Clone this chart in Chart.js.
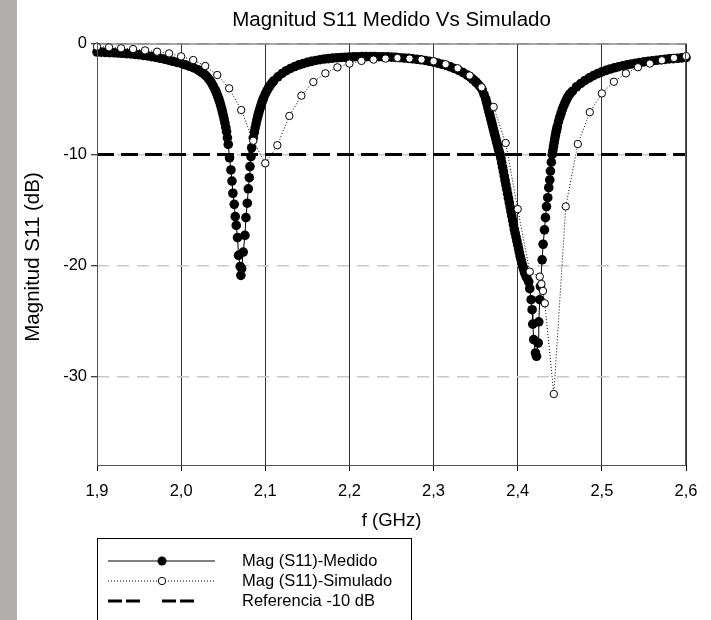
<!DOCTYPE html>
<html>
<head>
<meta charset="utf-8">
<script src="https://cdn.jsdelivr.net/npm/chart.js@4"></script>
<style>
  body { margin: 0; background: #fff; }
  canvas { display: block; }
</style>
</head>
<body>
<canvas id="s11_chart" width="711" height="620"></canvas>
<script>
// frequency (GHz) / magnitude (dB)
const medidoX = [
  1.900, 1.905, 1.910, 1.915, 1.920, 1.925, 1.930, 1.935, 1.940, 1.945,
  1.950, 1.955, 1.960, 1.965, 1.970, 1.975, 1.980, 1.985, 1.990, 1.995,
  2.000, 2.005, 2.010, 2.015, 2.020, 2.022, 2.024, 2.026, 2.028, 2.030,
  2.032, 2.034, 2.036, 2.038, 2.040, 2.041, 2.042, 2.043, 2.044, 2.045,
  2.046, 2.047, 2.048, 2.049, 2.050, 2.051, 2.052, 2.053, 2.054, 2.055,
  2.0560, 2.0575, 2.0592, 2.0604, 2.0615, 2.0631, 2.0643, 2.0655, 2.0670, 2.0682,
  2.0702, 2.0710, 2.0719, 2.0738, 2.0758, 2.0770, 2.0786, 2.0798, 2.0810, 2.0818,
  2.0830, 2.0838, 2.0857, 2.087, 2.088, 2.089, 2.090, 2.091, 2.092, 2.093,
  2.094, 2.095, 2.096, 2.097, 2.098, 2.100, 2.102, 2.104, 2.106, 2.108,
  2.110, 2.115, 2.120, 2.125, 2.130, 2.135, 2.140, 2.145, 2.150, 2.155,
  2.160, 2.165, 2.170, 2.175, 2.180, 2.185, 2.190, 2.195, 2.200, 2.205,
  2.210, 2.215, 2.220, 2.225, 2.230, 2.235, 2.240, 2.245, 2.250, 2.255,
  2.260, 2.265, 2.270, 2.275, 2.280, 2.285, 2.290, 2.295, 2.300, 2.305,
  2.310, 2.315, 2.320, 2.325, 2.330, 2.335, 2.340, 2.342, 2.344, 2.346,
  2.348, 2.350, 2.352, 2.354, 2.356, 2.358, 2.360, 2.362, 2.363, 2.364,
  2.365, 2.366, 2.367, 2.368, 2.369, 2.370, 2.371, 2.372, 2.373, 2.374,
  2.375, 2.376, 2.377, 2.378, 2.379, 2.380, 2.381, 2.382, 2.383, 2.384,
  2.385, 2.386, 2.387, 2.388, 2.389, 2.390, 2.391, 2.392, 2.393, 2.394,
  2.395, 2.396, 2.397, 2.398, 2.399, 2.400, 2.401, 2.402, 2.403, 2.404,
  2.405, 2.406, 2.407, 2.408, 2.409, 2.410, 2.411, 2.4131, 2.4143, 2.4160,
  2.4171, 2.4179, 2.4190, 2.4211, 2.4223, 2.4243, 2.4250, 2.4262, 2.4270, 2.4290,
  2.4302, 2.4318, 2.4330, 2.4342, 2.4357, 2.4369, 2.4381, 2.4389, 2.4400, 2.4410,
  2.4418, 2.4425, 2.4433, 2.4440, 2.4448, 2.4455, 2.4463, 2.4470, 2.4485, 2.4500,
  2.4515, 2.4530, 2.4545, 2.4560, 2.4575, 2.4590, 2.4605, 2.462, 2.465, 2.470,
  2.475, 2.480, 2.485, 2.490, 2.495, 2.500, 2.505, 2.510, 2.515, 2.520,
  2.525, 2.530, 2.535, 2.540, 2.545, 2.550, 2.555, 2.560, 2.565, 2.570,
  2.575, 2.580, 2.585, 2.590, 2.595, 2.600
];
const medidoY = [
  -0.77, -0.78, -0.80, -0.82, -0.84, -0.86, -0.88, -0.91, -0.94, -0.98,
  -1.02, -1.07, -1.12, -1.18, -1.25, -1.33, -1.41, -1.50, -1.60, -1.70,
  -1.80, -1.92, -2.05, -2.20, -2.38, -2.47, -2.57, -2.68, -2.80, -2.95,
  -3.12, -3.32, -3.55, -3.82, -4.12, -4.28, -4.45, -4.65, -4.85, -5.07,
  -5.30, -5.57, -5.85, -6.15, -6.45, -6.80, -7.15, -7.55, -7.95, -8.50,
  -9.1, -10.3, -11.4, -12.4, -13.5, -14.5, -15.6, -16.4, -17.5, -19.1,
  -20.1, -20.9, -20.3, -18.8, -17.3, -15.7, -14.4, -13.1, -12.1, -11.1,
  -10.2, -9.4, -8.5, -8.0, -7.6, -7.25, -6.9, -6.6, -6.3, -6.05,
  -5.8, -5.55, -5.3, -5.1, -4.9, -4.55, -4.25, -3.98, -3.75, -3.55,
  -3.37, -3.0, -2.7, -2.45, -2.25, -2.08, -1.93, -1.81, -1.70, -1.61,
  -1.53, -1.46, -1.40, -1.36, -1.32, -1.29, -1.26, -1.24, -1.22, -1.20,
  -1.19, -1.18, -1.18, -1.18, -1.18, -1.19, -1.20, -1.21, -1.23, -1.25,
  -1.28, -1.31, -1.34, -1.38, -1.42, -1.47, -1.53, -1.60, -1.68, -1.77,
  -1.87, -1.98, -2.11, -2.26, -2.43, -2.63, -2.85, -2.95, -3.06, -3.18,
  -3.31, -3.45, -3.60, -3.77, -3.95, -4.2, -4.6, -5.0, -5.3, -5.6,
  -5.9, -6.2, -6.5, -6.8, -7.1, -7.4, -7.7, -8.0, -8.3, -8.6,
  -8.9, -9.2, -9.5, -9.75, -10.0, -10.35, -10.75, -11.15, -11.55, -11.95,
  -12.35, -12.75, -13.15, -13.55, -13.95, -14.35, -14.75, -15.15, -15.55, -15.95,
  -16.35, -16.75, -17.1, -17.45, -17.8, -18.15, -18.5, -18.85, -19.2, -19.5,
  -19.8, -20.1, -20.35, -20.6, -20.8, -21.0, -21.15, -21.5, -22.1, -23.1,
  -24.0, -25.3, -26.7, -27.9, -28.2, -27.0, -25.1, -23.1, -21.9, -19.5,
  -18.1, -16.8, -15.7, -14.7, -13.9, -13.0, -12.3, -11.5, -10.7, -10.0,
  -9.65, -9.3, -8.95, -8.6, -8.3, -8.0, -7.75, -7.5, -7.05, -6.65,
  -6.3, -5.95, -5.65, -5.38, -5.12, -4.9, -4.72, -4.55, -4.3, -3.9,
  -3.6, -3.33, -3.1, -2.9, -2.72, -2.56, -2.42, -2.30, -2.19, -2.09,
  -2.00, -1.92, -1.85, -1.78, -1.72, -1.66, -1.61, -1.56, -1.51, -1.47,
  -1.43, -1.39, -1.36, -1.33, -1.30, -1.27
];
const simuladoX = [
  1.9000, 1.9143, 1.9286, 1.9429, 1.9571, 1.9714, 1.9857, 2.0000, 2.0143, 2.0286,
  2.0429, 2.0571, 2.0714, 2.0857, 2.1000, 2.1143, 2.1286, 2.1429, 2.1571, 2.1714,
  2.1857, 2.2000, 2.2143, 2.2286, 2.2429, 2.2571, 2.2714, 2.2857, 2.3000, 2.3143,
  2.3286, 2.3429, 2.3571, 2.3714, 2.3857, 2.4000, 2.4143, 2.4262, 2.4282, 2.4300,
  2.4322, 2.4429, 2.4571, 2.4714, 2.4857, 2.5000, 2.5143, 2.5286, 2.5429, 2.5571,
  2.5714, 2.5857, 2.6000
];
const simuladoY = [
  -0.28, -0.34, -0.43, -0.50, -0.62, -0.74, -0.89, -1.16, -1.49, -2.03,
  -2.84, -4.04, -6.0, -8.77, -10.8, -9.17, -6.53, -4.7, -3.47, -2.69,
  -2.15, -1.81, -1.57, -1.45, -1.36, -1.30, -1.36, -1.45, -1.60, -1.87,
  -2.23, -2.89, -3.95, -5.72, -8.97, -14.93, -20.57, -21.02, -21.68, -22.31,
  -23.42, -31.6, -14.69, -9.06, -6.19, -4.5, -3.45, -2.69, -2.14, -1.81,
  -1.51, -1.30, -1.14
];
const referenciaX = [1.9, 2.6];
const referenciaY = [-10, -10];

const xTicks = [1.9, 2.0, 2.1, 2.2, 2.3, 2.4, 2.5, 2.6];
const yTicks = [0, -10, -20, -30];

const legendLabels = ["Mag (S11)-Medido", "Mag (S11)-Simulado", "Referencia -10 dB"];

const FONT = "'Liberation Sans', Arial, sans-serif";

const toPoints = (xs, ys) => xs.map((x, i) => ({ x: x, y: ys[i] }));

// strip, frame, titles and the boxed legend
const framePlugin = {
  id: "frame",
  beforeDraw(chart) {
    const c = chart.ctx;
    c.save();
    c.fillStyle = "#fff";
    c.fillRect(0, 0, chart.width, chart.height);
    c.fillStyle = "#b1aeab";
    c.fillRect(0, 0, 17, chart.height);
    c.restore();
  },
  afterDraw(chart) {
    const c = chart.ctx;
    const a = chart.chartArea;
    c.save();
    c.strokeStyle = "#555";
    c.lineWidth = 1;
    c.strokeRect(a.left + 0.5, a.top + 0.5, a.right - a.left - 1, a.bottom - a.top);

    c.fillStyle = "#000";
    c.textAlign = "center";
    c.textBaseline = "middle";
    c.font = "20.5px " + FONT;
    c.fillText("Magnitud S11 Medido Vs Simulado", (a.left + a.right) / 2, 20);
    c.font = "18.5px " + FONT;
    c.fillText("f (GHz)", (a.left + a.right) / 2, 521);
    c.font = "20.5px " + FONT;
    c.save();
    c.translate(33, 257);
    c.rotate(-Math.PI / 2);
    c.fillText("Magnitud S11 (dB)", 0, 0);
    c.restore();

    // legend
    c.strokeStyle = "#000";
    c.strokeRect(97.5, 538.5, 314, 100);
    const rows = [561, 581, 601];
    c.lineWidth = 1;
    c.beginPath();
    c.moveTo(108, rows[0]);
    c.lineTo(215, rows[0]);
    c.stroke();
    c.beginPath();
    c.arc(162, rows[0], 4.5, 0, Math.PI * 2);
    c.fillStyle = "#000";
    c.fill();

    c.setLineDash([1, 2]);
    c.beginPath();
    c.moveTo(108, rows[1]);
    c.lineTo(215, rows[1]);
    c.stroke();
    c.setLineDash([]);
    c.beginPath();
    c.arc(162, rows[1], 3.7, 0, Math.PI * 2);
    c.fillStyle = "#fff";
    c.fill();
    c.stroke();

    c.lineWidth = 3;
    c.setLineDash([14, 4, 14, 22]);
    c.beginPath();
    c.moveTo(108, rows[2]);
    c.lineTo(200, rows[2]);
    c.stroke();
    c.setLineDash([]);

    c.fillStyle = "#000";
    c.textAlign = "left";
    c.font = "16.5px " + FONT;
    legendLabels.forEach((t, i) => c.fillText(t, 242, rows[i]));
    c.restore();
  },
};

const ctx = document.getElementById("s11_chart").getContext("2d");
const s11Chart = new Chart(ctx, {
  type: "line",
  data: {
    datasets: [
      {
        label: legendLabels[1],
        data: toPoints(simuladoX, simuladoY),
        borderColor: "#000",
        borderWidth: 1,
        borderDash: [1, 2],
        pointRadius: 3.7,
        pointBackgroundColor: "#fff",
        pointBorderColor: "#000",
        pointBorderWidth: 1,
        tension: 0,
        clip: false,
        order: 0,
      },
      {
        label: legendLabels[0],
        data: toPoints(medidoX, medidoY),
        borderColor: "#000",
        borderWidth: 1,
        pointRadius: 4.8,
        pointBackgroundColor: "#000",
        pointBorderWidth: 0,
        tension: 0,
        clip: false,
        order: 1,
      },
      {
        label: legendLabels[2],
        data: toPoints(referenciaX, referenciaY),
        borderColor: "#000",
        borderWidth: 3,
        borderDash: [17, 7],
        pointRadius: 0,
        order: 2,
      },
    ],
  },
  options: {
    responsive: false,
    animation: false,
    events: [],
    layout: { padding: { top: 43.5, right: 25, left: 0, bottom: 0 } },
    plugins: {
      legend: { display: false },
      tooltip: { enabled: false },
      title: { display: false },
    },
    scales: {
      x: {
        type: "linear",
        min: 1.9,
        max: 2.6,
        afterBuildTicks: (scale) => {
          scale.ticks = xTicks.map((v) => ({ value: v }));
        },
        afterFit: (scale) => {
          scale.height = 155;
        },
        grid: {
          color: "#333",
          lineWidth: 1,
          tickLength: 6,
          tickColor: "#000",
        },
        border: { display: false },
        ticks: {
          padding: 11,
          color: "#000",
          font: { family: FONT, size: 16.5 },
          maxRotation: 0,
          autoSkip: false,
          callback: (value) => value.toFixed(1).replace(".", ","),
        },
      },
      y: {
        type: "linear",
        min: -38,
        max: 0,
        afterBuildTicks: (scale) => {
          scale.ticks = yTicks.map((v) => ({ value: v }));
        },
        afterFit: (scale) => {
          scale.width = 97;
        },
        grid: {
          color: "#c8c8c8",
          lineWidth: 1.5,
          tickLength: 6,
          tickColor: "#000",
          tickWidth: 1,
        },
        border: { display: false, dash: [12, 8] },
        ticks: {
          padding: 4,
          color: "#000",
          font: { family: FONT, size: 16.5 },
          autoSkip: false,
          callback: (value) => String(value),
        },
      },
    },
  },
  plugins: [framePlugin],
});
</script>
</body>
</html>
